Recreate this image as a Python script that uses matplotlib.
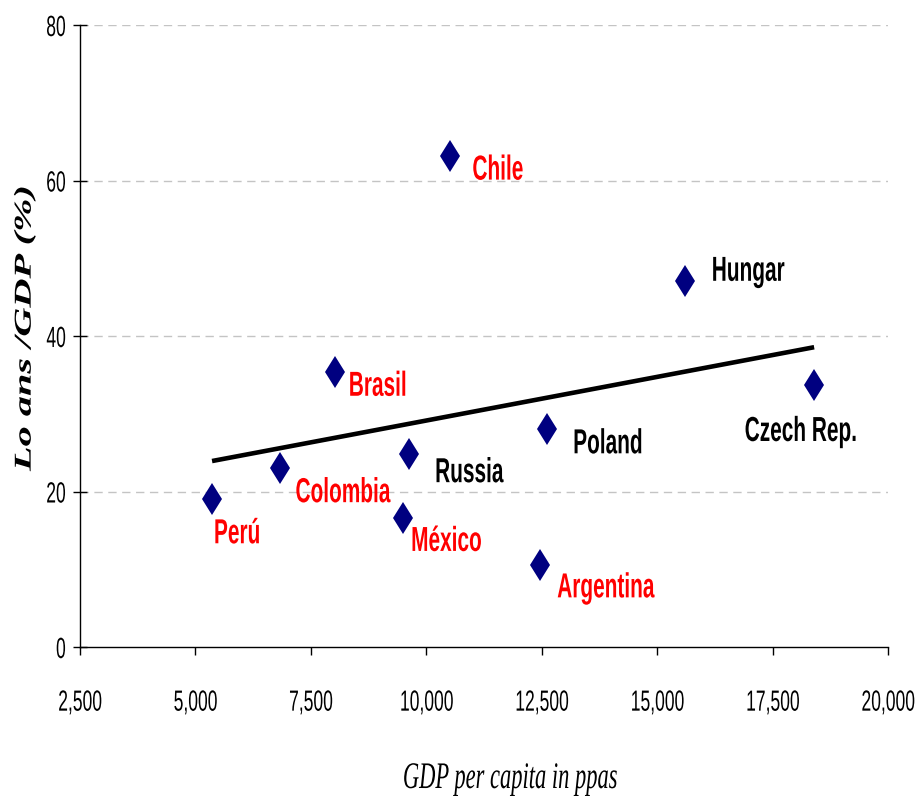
import numpy as np
import matplotlib
matplotlib.use("Agg")
import matplotlib.pyplot as plt
from matplotlib.patheffects import AbstractPathEffect
from matplotlib.transforms import Affine2D, Bbox

# Countries, GDP per capita (PPP) and loans/GDP (%)
countries = ["Perú", "Colombia", "Brasil", "México", "Russia", "Chile",
             "Argentina", "Poland", "Hungar", "Czech Rep."]
gdp_pc = [5360, 6830, 8020, 9500, 9630, 10510, 12460, 12620, 15600, 18400]
loans_gdp = [19.0, 23.0, 35.4, 16.6, 24.8, 63.2, 10.5, 28.0, 47.1, 33.7]
label_colors = ["red", "red", "red", "red", "black", "red",
                "red", "black", "black", "black"]
# label offsets (pixels: right, up) from each point to the label's baseline start
label_offsets = [(1, -44), (15, -34), (13, -24), (7, -33), (25, -28),
                 (22, -24), (17, -32), (25, -24), (26, 0), (-70, -56)]

x_ticks = [2500, 5000, 7500, 10000, 12500, 15000, 17500, 20000]
y_ticks = [0, 20, 40, 60, 80]

SANS = "Liberation Sans"
SERIF = "Liberation Serif"
NARROW = 0.6  # horizontal compression of all lettering


def _anchor_x(x0, x1, anchor):
    if anchor == "left":
        return x0
    if anchor == "right":
        return x1
    return 0.5 * (x0 + x1)


class SqueezeX(AbstractPathEffect):
    """Draw text compressed horizontally about its left, centre or right edge."""

    def __init__(self, factor=NARROW, anchor="left"):
        super().__init__()
        self.factor = factor
        self.anchor = anchor

    def draw_path(self, renderer, gc, tpath, affine, rgbFace=None):
        ext = tpath.get_extents(affine)
        ox = _anchor_x(ext.x0, ext.x1, self.anchor)
        squeeze = Affine2D().translate(-ox, 0).scale(self.factor, 1).translate(ox, 0)
        renderer.draw_path(gc, tpath, affine + squeeze, rgbFace)


def narrow(text, anchor, factor=NARROW):
    """Give a Text condensed lettering and a matching reported extent."""
    text.set_path_effects([SqueezeX(factor, anchor)])
    orig = text.get_window_extent

    def extent(renderer=None, dpi=None):
        bb = orig(renderer, dpi)
        ox = _anchor_x(bb.x0, bb.x1, anchor)
        return Bbox([[ox + (bb.x0 - ox) * factor, bb.y0],
                     [ox + (bb.x1 - ox) * factor, bb.y1]])

    text.get_window_extent = extent
    return text


fig = plt.figure(figsize=(9.19, 7.99), dpi=100)
ax = fig.add_axes([80 / 919, 1 - 647 / 799, 808 / 919, 622 / 799])

ax.set_xlim(2500, 20000)
ax.set_ylim(0, 80)

# dashed horizontal gridlines
for y in y_ticks[1:]:
    ax.axhline(y, color="#c4c4c4", lw=1, ls=(0, (6, 4)), zorder=0)

# linear trend over the observed range
coef = np.polyfit(gdp_pc, loans_gdp, 1)
xs = np.array([min(gdp_pc), max(gdp_pc)])
ax.plot(xs, np.polyval(coef, xs), color="black", lw=3.3, solid_capstyle="butt", zorder=2)

ax.plot(gdp_pc, loans_gdp, ls="none", marker="d", ms=16.5, color="#000080",
        markeredgewidth=0, zorder=3)

px = 72 / 100
for name, x, y, c, (dx, dy) in zip(countries, gdp_pc, loans_gdp, label_colors, label_offsets):
    t = ax.annotate(name, (x, y), xytext=(dx * px, dy * px), textcoords="offset points",
                    ha="left", va="baseline", color=c, fontsize=25, fontweight="bold",
                    family=SANS)
    narrow(t, "left")

ax.set_xticks(x_ticks)
ax.set_xticklabels([f"{v:,}" for v in x_ticks])
ax.set_yticks(y_ticks)
ax.set_yticklabels([str(v) for v in y_ticks])
ax.tick_params(axis="x", direction="out", length=6, width=1, pad=24, labelsize=21)
ax.tick_params(axis="y", direction="inout", length=10, width=1, pad=5, labelsize=21)
for lbl in ax.get_xticklabels():
    lbl.set_family(SANS)
    narrow(lbl, "center")
for lbl in ax.get_yticklabels():
    lbl.set_family(SANS)
    narrow(lbl, "right")

for s in ["top", "right"]:
    ax.spines[s].set_visible(False)
for s in ["left", "bottom"]:
    ax.spines[s].set_linewidth(1)
    ax.spines[s].set_color("black")

xlab = fig.text(510 / 919, 1 - 788 / 799, "GDP per capita in ppas", ha="center",
                va="baseline", family=SERIF, style="italic", fontsize=27)
narrow(xlab, "center")
ylab = fig.text(25 / 919, 1 - 328 / 799, "Lo ans /GDP (%)", ha="center", va="center",
                family=SERIF, style="italic", fontweight="bold", fontsize=29, rotation=90)
narrow(ylab, "center")

fig.savefig("out.png", dpi=100)
